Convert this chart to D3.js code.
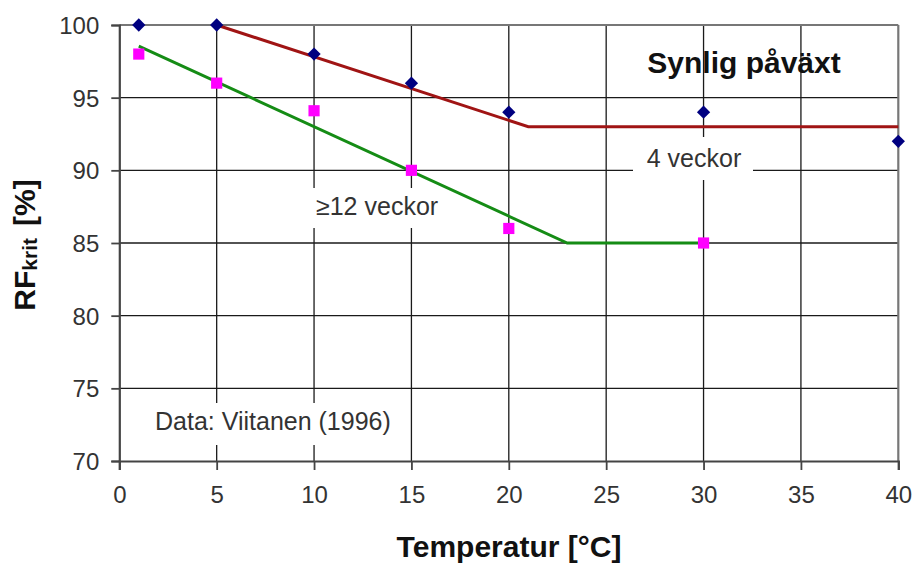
<!DOCTYPE html>
<html>
<head>
<meta charset="utf-8">
<script src="https://cdn.jsdelivr.net/npm/d3@7"></script>
<style>
html,body{margin:0;padding:0;background:#fff;}
svg{display:block;font-family:"Liberation Sans",Arial,sans-serif;}
</style>
</head>
<body>
<svg id="chart" width="915" height="566"></svg>
<script>
// ---- data ----
const xTicks = [0,5,10,15,20,25,30,35,40];
const yTicks = [70,75,80,85,90,95,100];
// measured points: 4 weeks (diamonds)
const weeks4Temp = [1,5,10,15,20,30,40];
const weeks4RF   = [100,100,98,96,94,94,92];
// measured points: >=12 weeks (squares)
const weeks12Temp = [1,5,10,15,20,30];
const weeks12RF   = [98,96,94.1,90,86,85];
// fitted lines
const line4Temp = [5,21,40];
const line4RF   = [100,93,93];
const line12Temp = [1,23,30];
const line12RF   = [98.55,85,85];

const svg = d3.select("#chart");
const x = d3.scaleLinear().domain([0,40]).range([119.3,898.3]);
const y = d3.scaleLinear().domain([70,100]).range([461,25]);

// grid
const g = svg.append("g");
g.selectAll(".hg").data(yTicks.filter(v=>v>70 && v<100)).join("line")
  .attr("x1",x(0)).attr("x2",x(40)).attr("y1",d=>y(d)).attr("y2",d=>y(d))
  .attr("stroke","#1a1a1a").attr("stroke-width",1.3);
g.selectAll(".vg").data(xTicks.filter(v=>v>0 && v<40)).join("line")
  .attr("y1",y(70)).attr("y2",y(100)).attr("x1",d=>x(d)).attr("x2",d=>x(d))
  .attr("stroke","#1a1a1a").attr("stroke-width",1.3);

// white label boxes (they hide gridlines)
const boxes = [
  {x0:633,x1:753,y0:137,y1:180},
  {x0:305,x1:449,y0:188,y1:228},
  {x0:145,x1:405,y0:403,y1:445}
];
g.selectAll(".box").data(boxes).join("rect")
  .attr("x",d=>d.x0).attr("y",d=>d.y0).attr("width",d=>d.x1-d.x0).attr("height",d=>d.y1-d.y0)
  .attr("fill","#fff");

// border top/right
svg.append("line").attr("x1",x(0)).attr("x2",x(40)).attr("y1",y(100)).attr("y2",y(100))
  .attr("stroke","#777").attr("stroke-width",2.2);
svg.append("line").attr("x1",x(40)).attr("x2",x(40)).attr("y1",y(100)).attr("y2",y(70))
  .attr("stroke","#777").attr("stroke-width",2.2);

// axes
const yAxis = d3.axisLeft(y).tickValues(yTicks).tickSize(8).tickPadding(12).tickFormat(d3.format("d"));
const xAxis = d3.axisBottom(x).tickValues(xTicks).tickSize(9).tickPadding(16).tickFormat(d3.format("d"));
const ya = svg.append("g").attr("transform",`translate(${x(0)},0)`).call(yAxis);
const xa = svg.append("g").attr("transform",`translate(0,${y(70)})`).call(xAxis);
[ya,xa].forEach(a=>{
  a.select(".domain").attr("stroke","#444").attr("stroke-width",2.2);
  a.selectAll(".tick line").attr("stroke","#444").attr("stroke-width",1.8);
  a.selectAll(".tick text").attr("fill","#333").attr("font-size",24)
    .attr("font-family","'Liberation Sans',Arial,sans-serif");
});
ya.selectAll(".tick text").attr("dy","0.36em");

// lines
const lineGen = d3.line().x(d=>x(d[0])).y(d=>y(d[1]));
svg.append("path").datum(line4Temp.map((t,i)=>[t,line4RF[i]]))
  .attr("d",lineGen).attr("fill","none").attr("stroke","#a01414").attr("stroke-width",3);
svg.append("path").datum(line12Temp.map((t,i)=>[t,line12RF[i]]))
  .attr("d",lineGen).attr("fill","none").attr("stroke","#158c15").attr("stroke-width",3);

// points
svg.selectAll(".dia").data(weeks4Temp.map((t,i)=>[t,weeks4RF[i]])).join("path")
  .attr("d",d3.symbol().type(d3.symbolDiamond2).size(112))
  .attr("transform",d=>`translate(${x(d[0])},${y(d[1])})`)
  .attr("fill","#000080");
svg.selectAll(".sq").data(weeks12Temp.map((t,i)=>[t,weeks12RF[i]])).join("path")
  .attr("d",d3.symbol().type(d3.symbolSquare).size(125))
  .attr("transform",d=>`translate(${x(d[0])},${y(d[1])})`)
  .attr("fill","#ff00ff");

// annotations
svg.append("text").attr("x",744).attr("y",73).attr("text-anchor","middle")
  .attr("font-size",30).attr("font-weight","bold").attr("fill","#111").text("Synlig påväxt");
svg.append("text").attr("x",694).attr("y",167).attr("text-anchor","middle")
  .attr("font-size",25).attr("fill","#333").text("4 veckor");
svg.append("text").attr("x",316).attr("y",215)
  .attr("font-size",25).attr("fill","#333").text("≥12 veckor");
svg.append("text").attr("x",155).attr("y",430)
  .attr("font-size",25).attr("fill","#333").text("Data: Viitanen (1996)");

// axis titles
svg.append("text").attr("x",509).attr("y",557).attr("text-anchor","middle")
  .attr("font-size",30).attr("font-weight","bold").attr("fill","#111").text("Temperatur [°C]");
const yt = svg.append("text").attr("transform","translate(35,245) rotate(-90)")
  .attr("text-anchor","middle").attr("font-weight","bold").attr("fill","#111");
yt.append("tspan").attr("font-size",30).text("RF");
yt.append("tspan").attr("font-size",21).attr("dy",2).text("krit");
yt.append("tspan").attr("font-size",30).attr("dy",-2).attr("dx",12).text("[%]");
</script>
</body>
</html>
